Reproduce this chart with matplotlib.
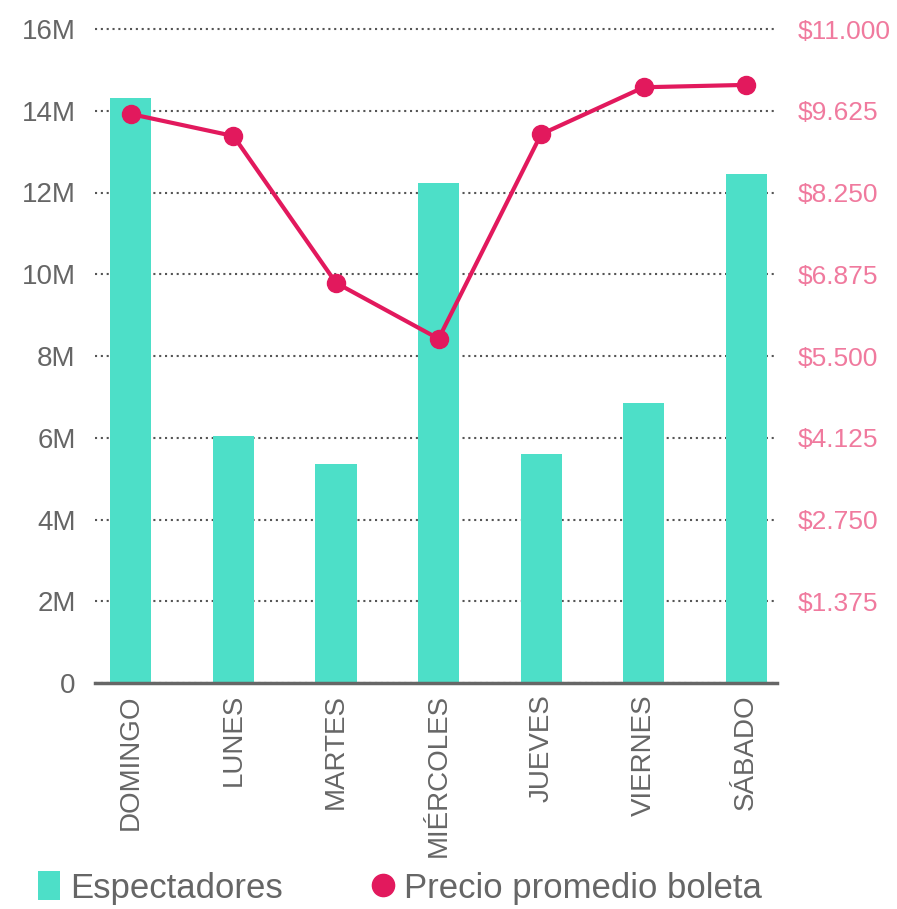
import matplotlib
matplotlib.use("Agg")
import matplotlib.pyplot as plt
from matplotlib.patches import Patch
from matplotlib.lines import Line2D
from matplotlib.ticker import FuncFormatter

plt.rcParams['font.family'] = ['Liberation Sans', 'DejaVu Sans']

# datos
dias = ['DOMINGO', 'LUNES', 'MARTES', 'MIÉRCOLES', 'JUEVES', 'VIERNES', 'SÁBADO']
espectadores = [14.31e6, 6.04e6, 5.36e6, 12.23e6, 5.60e6, 6.85e6, 12.45e6]
precio = [9570, 9200, 6730, 5790, 9230, 10020, 10060]

left_ticks = [0, 2e6, 4e6, 6e6, 8e6, 10e6, 12e6, 14e6, 16e6]
right_ticks = [1375, 2750, 4125, 5500, 6875, 8250, 9625, 11000]

teal = '#4ddfc8'
pink = '#e2195d'
pink_txt = '#f07a9e'
gray = '#666666'

fig = plt.figure(figsize=(8.97, 9.09), dpi=100)
ax = fig.add_axes([95 / 897, (909 - 683) / 909, 682 / 897, 654 / 909])

x = range(len(dias))
ax.bar(x, espectadores, width=0.4, color=teal, zorder=2)
ax.set_xlim(-0.35, 6.3)
ax.set_ylim(0, 16e6)
ax.set_yticks(left_ticks)
ax.yaxis.set_major_formatter(FuncFormatter(lambda v, p: '0' if v == 0 else f'{int(v / 1e6)}M'))
ax.grid(axis='y', linestyle=(0, (1, 1.8)), color='#555555', linewidth=1.5, zorder=0)
for gl in ax.get_ygridlines():
    gl.set_clip_on(False)
ax.set_xticks(list(x))
ax.set_xticklabels(dias, rotation=90, va='top', ha='center')
ax.tick_params(axis='x', length=0, pad=8, labelsize=20, labelcolor=gray)
ax.tick_params(axis='y', length=0, pad=14, labelsize=20, labelcolor=gray)
for s in ['top', 'right', 'left']:
    ax.spines[s].set_visible(False)
ax.spines['bottom'].set_color(gray)
ax.spines['bottom'].set_linewidth(2.5)
ax.spines['bottom'].set_zorder(3)

ax2 = ax.twinx()
ax2.plot(x, precio, color=pink, linewidth=3, marker='o', markersize=13, zorder=4)
ax2.set_ylim(0, 11000)
ax2.set_yticks(right_ticks)
ax2.yaxis.set_major_formatter(FuncFormatter(lambda v, p: '$' + f'{int(v):,}'.replace(',', '.')))
ax2.tick_params(axis='y', length=0, pad=15, labelsize=19, labelcolor=pink_txt)
for s in ['top', 'right', 'left', 'bottom']:
    ax2.spines[s].set_visible(False)

handles = [
    Patch(facecolor=teal, edgecolor='none', label='Espectadores'),
    Line2D([], [], color=pink, marker='o', linestyle='none', markersize=16, label='Precio promedio boleta'),
]
leg = fig.legend(handles=handles, loc='center left', bbox_to_anchor=(38 / 897, 1 - 888 / 909), ncol=2,
                 frameon=False, handlelength=0.63, handleheight=0.9,
                 handletextpad=0.3, columnspacing=2.55, borderpad=0, borderaxespad=0,
                 prop={'size': 25})
for t in leg.get_texts():
    t.set_color(gray)

fig.savefig('out.png', dpi=100)
